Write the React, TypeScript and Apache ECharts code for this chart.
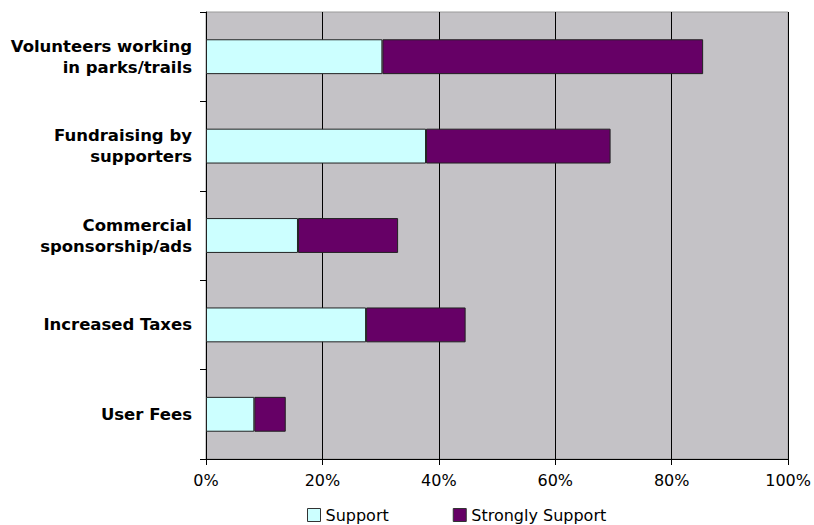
import React, { useEffect, useRef } from "react";
import * as echarts from "echarts";

const categories = [
  "Volunteers working\nin parks/trails",
  "Fundraising by\nsupporters",
  "Commercial\nsponsorship/ads",
  "Increased Taxes",
  "User Fees",
];
const supportValues = [30.3, 37.8, 15.8, 27.5, 8.3];
const stronglySupportValues = [55.1, 31.7, 17.2, 17.1, 5.4];
const xTicks = [0, 20, 40, 60, 80, 100];

export default function App() {
  const ref = useRef<HTMLDivElement>(null);
  useEffect(() => {
    if (!ref.current) return;
    const chart = echarts.init(ref.current, null, { renderer: "svg" });
    chart.setOption({
      animation: false,
      backgroundColor: "#ffffff",
      textStyle: { fontFamily: "DejaVu Sans, sans-serif" },
      grid: {
        left: 206,
        right: 23,
        top: 12,
        bottom: 66,
        show: true,
        backgroundColor: "#c4c2c6",
        borderColor: "#9a9a9a",
        borderWidth: 1,
      },
      legend: {
        left: 307,
        top: 507,
        padding: 0,
        itemWidth: 13,
        itemHeight: 13,
        itemGap: 64,
        itemTextGap: 6,
        icon: "rect",
        textStyle: { fontSize: 16, color: "#000", fontFamily: "DejaVu Sans, sans-serif" },
        data: [
          { name: "Support", itemStyle: { color: "#ccffff", borderColor: "#333", borderWidth: 1 } },
          { name: "Strongly Support", itemStyle: { color: "#660066", borderColor: "#333", borderWidth: 1 } },
        ],
      },
      xAxis: {
        type: "value",
        min: xTicks[0],
        max: xTicks[xTicks.length - 1],
        interval: 20,
        axisLine: { show: true, lineStyle: { color: "#000", width: 1 } },
        axisTick: { show: true, length: 6, lineStyle: { color: "#000" } },
        axisLabel: {
          formatter: "{value}%",
          fontSize: 16,
          color: "#000",
          margin: 13,
          fontFamily: "DejaVu Sans, sans-serif",
        },
        splitLine: { show: true, lineStyle: { color: "#000", width: 1 } },
      },
      yAxis: {
        type: "category",
        data: categories,
        inverse: true,
        axisLine: { show: true, lineStyle: { color: "#000", width: 1 } },
        axisTick: { show: true, length: 6, alignWithLabel: false, lineStyle: { color: "#000" } },
        axisLabel: {
          fontSize: 16.5,
          fontWeight: "bold",
          color: "#000",
          margin: 14,
          lineHeight: 21,
          align: "right",
          fontFamily: "DejaVu Sans, sans-serif",
        },
      },
      series: [
        {
          name: "Support",
          type: "bar",
          stack: "total",
          data: supportValues,
          barCategoryGap: "61%",
          itemStyle: { color: "#ccffff", borderColor: "#222", borderWidth: 1 },
        },
        {
          name: "Strongly Support",
          type: "bar",
          stack: "total",
          data: stronglySupportValues,
          itemStyle: { color: "#660066", borderColor: "#222", borderWidth: 1 },
        },
      ],
    });
    return () => chart.dispose();
  }, []);
  return <div ref={ref} style={{ width: 814, height: 525, position: "absolute", left: 0, top: 0 }} />;
}
